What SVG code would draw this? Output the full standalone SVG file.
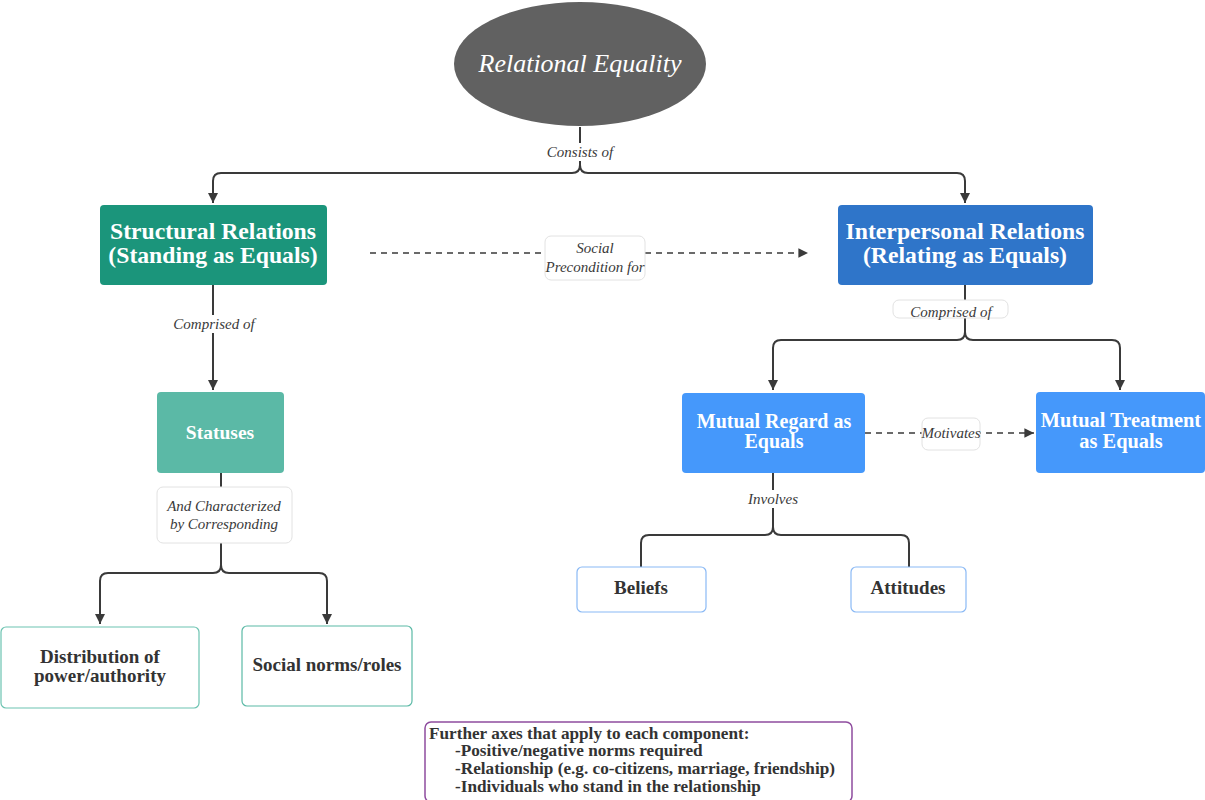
<svg xmlns="http://www.w3.org/2000/svg" width="1205" height="800" viewBox="0 0 1205 800">
<style>
.conn{fill:none;stroke:#3a3a3a;stroke-width:2}
.dash{fill:none;stroke:#3a3a3a;stroke-width:1.6;stroke-dasharray:6 5}
.lbl{font-family:"Liberation Serif","DejaVu Serif",serif;font-style:italic;font-size:15px;fill:#3a3a3a;text-anchor:middle}
.lblbox{fill:#fff;stroke:#e2e2e2;stroke-width:1}
.wt{font-family:"Liberation Serif","DejaVu Serif",serif;font-weight:bold;fill:#fff;text-anchor:middle}
.dk{font-family:"Liberation Serif","DejaVu Serif",serif;font-weight:bold;fill:#333;text-anchor:middle;font-size:19px}
.title{font-family:"Liberation Serif","DejaVu Serif",serif;font-style:italic;font-size:26px;fill:#fff;text-anchor:middle}
.axes{font-family:"Liberation Serif","DejaVu Serif",serif;font-weight:bold;font-size:17.2px;fill:#333}
</style>
<defs>
<marker id="ah" viewBox="0 0 10 10" refX="10" refY="5" markerWidth="5" markerHeight="5" orient="auto" markerUnits="strokeWidth">
<path d="M0,0 L10,5 L0,10 z" fill="#3a3a3a"/>
</marker>
<marker id="ahd" viewBox="0 0 10 10" refX="10" refY="5" markerWidth="6" markerHeight="6" orient="auto" markerUnits="strokeWidth">
<path d="M0,0 L10,5 L0,10 z" fill="#3a3a3a"/>
</marker>
</defs>

<g id="connectors">
<path class="conn" d="M580,127 V165 Q580,173 572,173 H221 Q213,173 213,181 V203" marker-end="url(#ah)"/>
<path class="conn" d="M580,165 Q580,173 588,173 H957 Q965,173 965,181 V203" marker-end="url(#ah)"/>
<path class="dash" d="M370,253 H808" marker-end="url(#ahd)"/>
<path class="conn" d="M213,285 V390" marker-end="url(#ah)"/>
<path class="conn" d="M221,473 V565 Q221,573 213,573 H108 Q100,573 100,581 V624" marker-end="url(#ah)"/>
<path class="conn" d="M221,565 Q221,573 229,573 H319 Q327,573 327,581 V624" marker-end="url(#ah)"/>
<path class="conn" d="M965,285 V332 Q965,340 957,340 H781 Q773,340 773,348 V390" marker-end="url(#ah)"/>
<path class="conn" d="M965,332 Q965,340 973,340 H1112 Q1120,340 1120,348 V390" marker-end="url(#ah)"/>
<path class="dash" d="M865,433 H1034" marker-end="url(#ahd)"/>
<path class="conn" d="M773,473 V527 Q773,535 765,535 H649 Q641,535 641,543 V567"/>
<path class="conn" d="M773,527 Q773,535 781,535 H901 Q909,535 909,543 V567"/>
<rect x="545" y="143" width="70" height="18" fill="#fff"/>
<text class="lbl" x="580" y="157">Consists of</text>
<rect class="lblbox" x="545" y="236" width="100" height="44" rx="6"/>
<text class="lbl" x="595" y="253">Social</text>
<text class="lbl" x="595" y="272">Precondition for</text>
<rect x="172" y="315" width="84" height="18" fill="#fff"/>
<text class="lbl" x="214" y="329">Comprised of</text>
<rect class="lblbox" x="157" y="487" width="135" height="56" rx="6"/>
<text class="lbl" x="224" y="511">And Characterized</text>
<text class="lbl" x="224" y="529">by Corresponding</text>
<rect class="lblbox" x="893" y="300" width="115" height="18" rx="6"/>
<text class="lbl" x="951" y="317">Comprised of</text>
<rect class="lblbox" x="922" y="418" width="58" height="32" rx="6"/>
<text class="lbl" x="951" y="438">Motivates</text>
<rect x="745" y="490" width="56" height="18" fill="#fff"/>
<text class="lbl" x="773" y="504">Involves</text>
</g>

<g id="relational-equality">
<ellipse cx="580" cy="64" rx="126" ry="62" fill="#616161"/>
<text class="title" x="580" y="72">Relational Equality</text>
</g>

<g id="structural">
<rect x="100" y="205" width="227" height="80" rx="4" fill="#1b957b"/>
<text class="wt" x="213" y="239" font-size="23.7">Structural Relations</text>
<text class="wt" x="213" y="263" font-size="23.7">(Standing as Equals)</text>
</g>

<g id="interpersonal">
<rect x="838" y="205" width="255" height="80" rx="4" fill="#2f75c9"/>
<text class="wt" x="965" y="239" font-size="23.7">Interpersonal Relations</text>
<text class="wt" x="965" y="263" font-size="23.7">(Relating as Equals)</text>
</g>

<g id="statuses">
<rect x="157" y="392" width="127" height="81" rx="4" fill="#5bb9a6"/>
<text class="wt" x="220" y="439" font-size="19.5">Statuses</text>
</g>

<g id="distribution">
<rect x="1" y="627" width="198" height="81" rx="5" fill="#fff" stroke="#6cc3b1" stroke-width="1.2"/>
<text class="dk" x="100" y="663">Distribution of</text>
<text class="dk" x="100" y="682">power/authority</text>
</g>

<g id="social-norms">
<rect x="242" y="626" width="170" height="80" rx="5" fill="#fff" stroke="#5bb9a6" stroke-width="1.2"/>
<text class="dk" x="327" y="671">Social norms/roles</text>
</g>

<g id="mutual-regard">
<rect x="682" y="393" width="183" height="80" rx="4" fill="#4598fb"/>
<text class="wt" x="774" y="428" font-size="20">Mutual Regard as</text>
<text class="wt" x="774" y="448" font-size="20">Equals</text>
</g>

<g id="mutual-treatment">
<rect x="1036" y="392" width="169" height="81" rx="4" fill="#4598fb"/>
<text class="wt" x="1121" y="427" font-size="20.4">Mutual Treatment</text>
<text class="wt" x="1121" y="448" font-size="20.4">as Equals</text>
</g>

<g id="beliefs">
<rect x="577" y="567" width="129" height="45" rx="5" fill="#fff" stroke="#8ab9f5" stroke-width="1.2"/>
<text class="dk" x="641" y="594">Beliefs</text>
</g>

<g id="attitudes">
<rect x="851" y="567" width="115" height="45" rx="5" fill="#fff" stroke="#8ab9f5" stroke-width="1.2"/>
<text class="dk" x="908" y="594">Attitudes</text>
</g>

<g id="further-axes">
<rect x="425" y="722" width="427" height="80" rx="6" fill="#fff" stroke="#8e4c9e" stroke-width="1.5"/>
<text class="axes" x="429" y="739">Further axes that apply to each component:</text>
<text class="axes" x="455" y="756">-Positive/negative norms required</text>
<text class="axes" x="455" y="774">-Relationship (e.g. co-citizens, marriage, friendship)</text>
<text class="axes" x="455" y="792">-Individuals who stand in the relationship</text>
</g>
</svg>
